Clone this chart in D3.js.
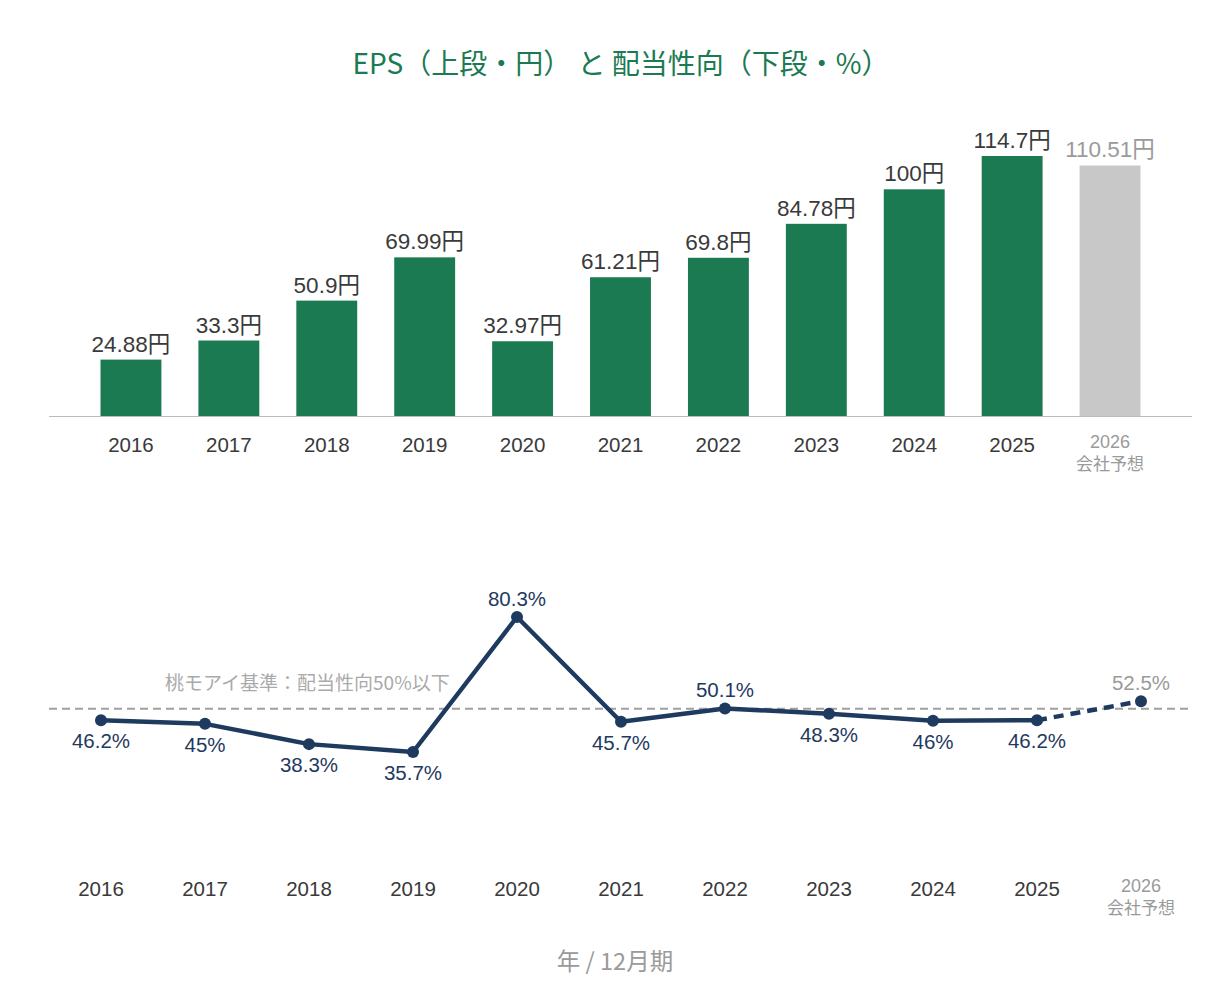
<!DOCTYPE html>
<html>
<head>
<meta charset="utf-8">
<script src="https://cdn.jsdelivr.net/npm/d3@7"></script>
<style>
  body { margin: 0; background: #fff; }
  svg text { font-family: "Liberation Sans", "Noto Sans CJK JP", sans-serif; }
</style>
</head>
<body>
<svg id="chart" width="1230" height="990"></svg>
<script>
const years = ["2016", "2017", "2018", "2019", "2020", "2021", "2022", "2023", "2024", "2025", "2026"];
const epsValues = [24.88, 33.3, 50.9, 69.99, 32.97, 61.21, 69.8, 84.78, 100, 114.7, 110.51];
const payoutValues = [46.2, 45, 38.3, 35.7, 80.3, 45.7, 50.1, 48.3, 46, 46.2, 52.5];
const forecastYear = "2026";
const forecastNote = "会社予想";
const payoutLimit = 50;

const svg = d3.select("#chart");
const green = "#1b7a52";
const navy = "#1f3a5f";
const grey = "#9a9a9a";
const dark = "#3a3a3a";

// Title
svg.append("text")
    .attr("x", 621).attr("y", 74)
    .attr("text-anchor", "middle")
    .attr("fill", green)
    .style("font-family", "'Noto Sans CJK JP', sans-serif")
    .style("font-size", "28px")
    .text("EPS（上段・円） と 配当性向（下段・%）");

// ---------- Bars (EPS) ----------
const xBar = d3.scaleBand()
    .domain(years)
    .range([82, 1159])
    .paddingInner(0.378)
    .paddingOuter(0.189);

const yBar = d3.scaleLinear()
    .domain([0, 114.7])
    .range([416, 156]);

svg.append("line")
    .attr("x1", 49).attr("x2", 1192)
    .attr("y1", 416.5).attr("y2", 416.5)
    .attr("stroke", "#bbb").attr("stroke-width", 1);

svg.selectAll("rect.eps")
    .data(epsValues)
    .enter()
    .append("rect")
    .attr("class", "eps")
    .attr("x", (d, i) => xBar(years[i]))
    .attr("width", xBar.bandwidth())
    .attr("y", d => yBar(d))
    .attr("height", d => yBar(0) - yBar(d))
    .attr("fill", (d, i) => years[i] === forecastYear ? "#c8c8c8" : green);

svg.selectAll("text.eps-label")
    .data(epsValues)
    .enter()
    .append("text")
    .attr("class", "eps-label")
    .attr("x", (d, i) => xBar(years[i]) + xBar.bandwidth() / 2)
    .attr("y", d => yBar(d) - 8)
    .attr("text-anchor", "middle")
    .attr("fill", (d, i) => years[i] === forecastYear ? grey : dark)
    .style("font-size", "22.5px")
    .text(d => d + "円");

function yearLabels(scale, offset, y) {
    const g = svg.append("g");
    years.forEach(yr => {
        const cx = scale(yr) + offset;
        const forecast = yr === forecastYear;
        g.append("text")
            .attr("x", cx).attr("y", forecast ? y - 4 : y)
            .attr("text-anchor", "middle")
            .attr("fill", forecast ? grey : dark)
            .style("font-size", forecast ? "18px" : "20.5px")
            .text(yr);
        if (forecast) {
            g.append("text")
                .attr("x", cx).attr("y", y + 18)
                .attr("text-anchor", "middle")
                .attr("fill", grey)
                .style("font-family", "'Noto Sans CJK JP', sans-serif")
                .style("font-size", "17px")
                .text(forecastNote);
        }
    });
}
yearLabels(xBar, xBar.bandwidth() / 2, 452);

// ---------- Line (payout ratio) ----------
const xLine = d3.scalePoint()
    .domain(years)
    .range([101, 1141]);

const yLine = d3.scaleLinear()
    .domain([35.7, 80.3])
    .range([752, 617]);

// reference line
svg.append("line")
    .attr("x1", 49).attr("x2", 1192)
    .attr("y1", yLine(payoutLimit)).attr("y2", yLine(payoutLimit))
    .attr("stroke", "#a0a0a0").attr("stroke-width", 2)
    .attr("stroke-dasharray", "8,5");

svg.append("text")
    .attr("x", 165).attr("y", yLine(payoutLimit) - 19)
    .attr("fill", "#aaa")
    .style("font-family", "'Noto Sans CJK JP', sans-serif")
    .style("font-size", "19px")
    .text("桃モアイ基準：配当性向" + payoutLimit + "%以下");

const pts = payoutValues.map((v, i) => [xLine(years[i]), yLine(v)]);
const line = d3.line();
const nActual = years.indexOf(forecastYear);

svg.append("path")
    .attr("d", line(pts.slice(0, nActual)))
    .attr("fill", "none")
    .attr("stroke", navy).attr("stroke-width", 4.5)
    .attr("stroke-linejoin", "round");

svg.append("path")
    .attr("d", line(pts.slice(nActual - 1)))
    .attr("fill", "none")
    .attr("stroke", navy).attr("stroke-width", 4.5)
    .attr("stroke-dasharray", "10,7");

svg.selectAll("circle.pt")
    .data(payoutValues)
    .enter()
    .append("circle")
    .attr("class", "pt")
    .attr("cx", (d, i) => xLine(years[i]))
    .attr("cy", d => yLine(d))
    .attr("r", 6)
    .attr("fill", navy);

svg.selectAll("text.pt-label")
    .data(payoutValues)
    .enter()
    .append("text")
    .attr("class", "pt-label")
    .attr("x", (d, i) => xLine(years[i]))
    .attr("y", d => d >= payoutLimit ? yLine(d) - 11 : yLine(d) + 28)
    .attr("text-anchor", "middle")
    .attr("fill", (d, i) => years[i] === forecastYear ? grey : navy)
    .style("font-size", "20.5px")
    .text(d => d + "%");

yearLabels(xLine, 0, 896);

// footer
svg.append("text")
    .attr("x", 615).attr("y", 970)
    .attr("text-anchor", "middle")
    .attr("fill", grey)
    .style("font-family", "'Noto Sans CJK JP', sans-serif")
    .style("font-size", "23.5px")
    .text("年 / 12月期");
</script>
</body>
</html>
